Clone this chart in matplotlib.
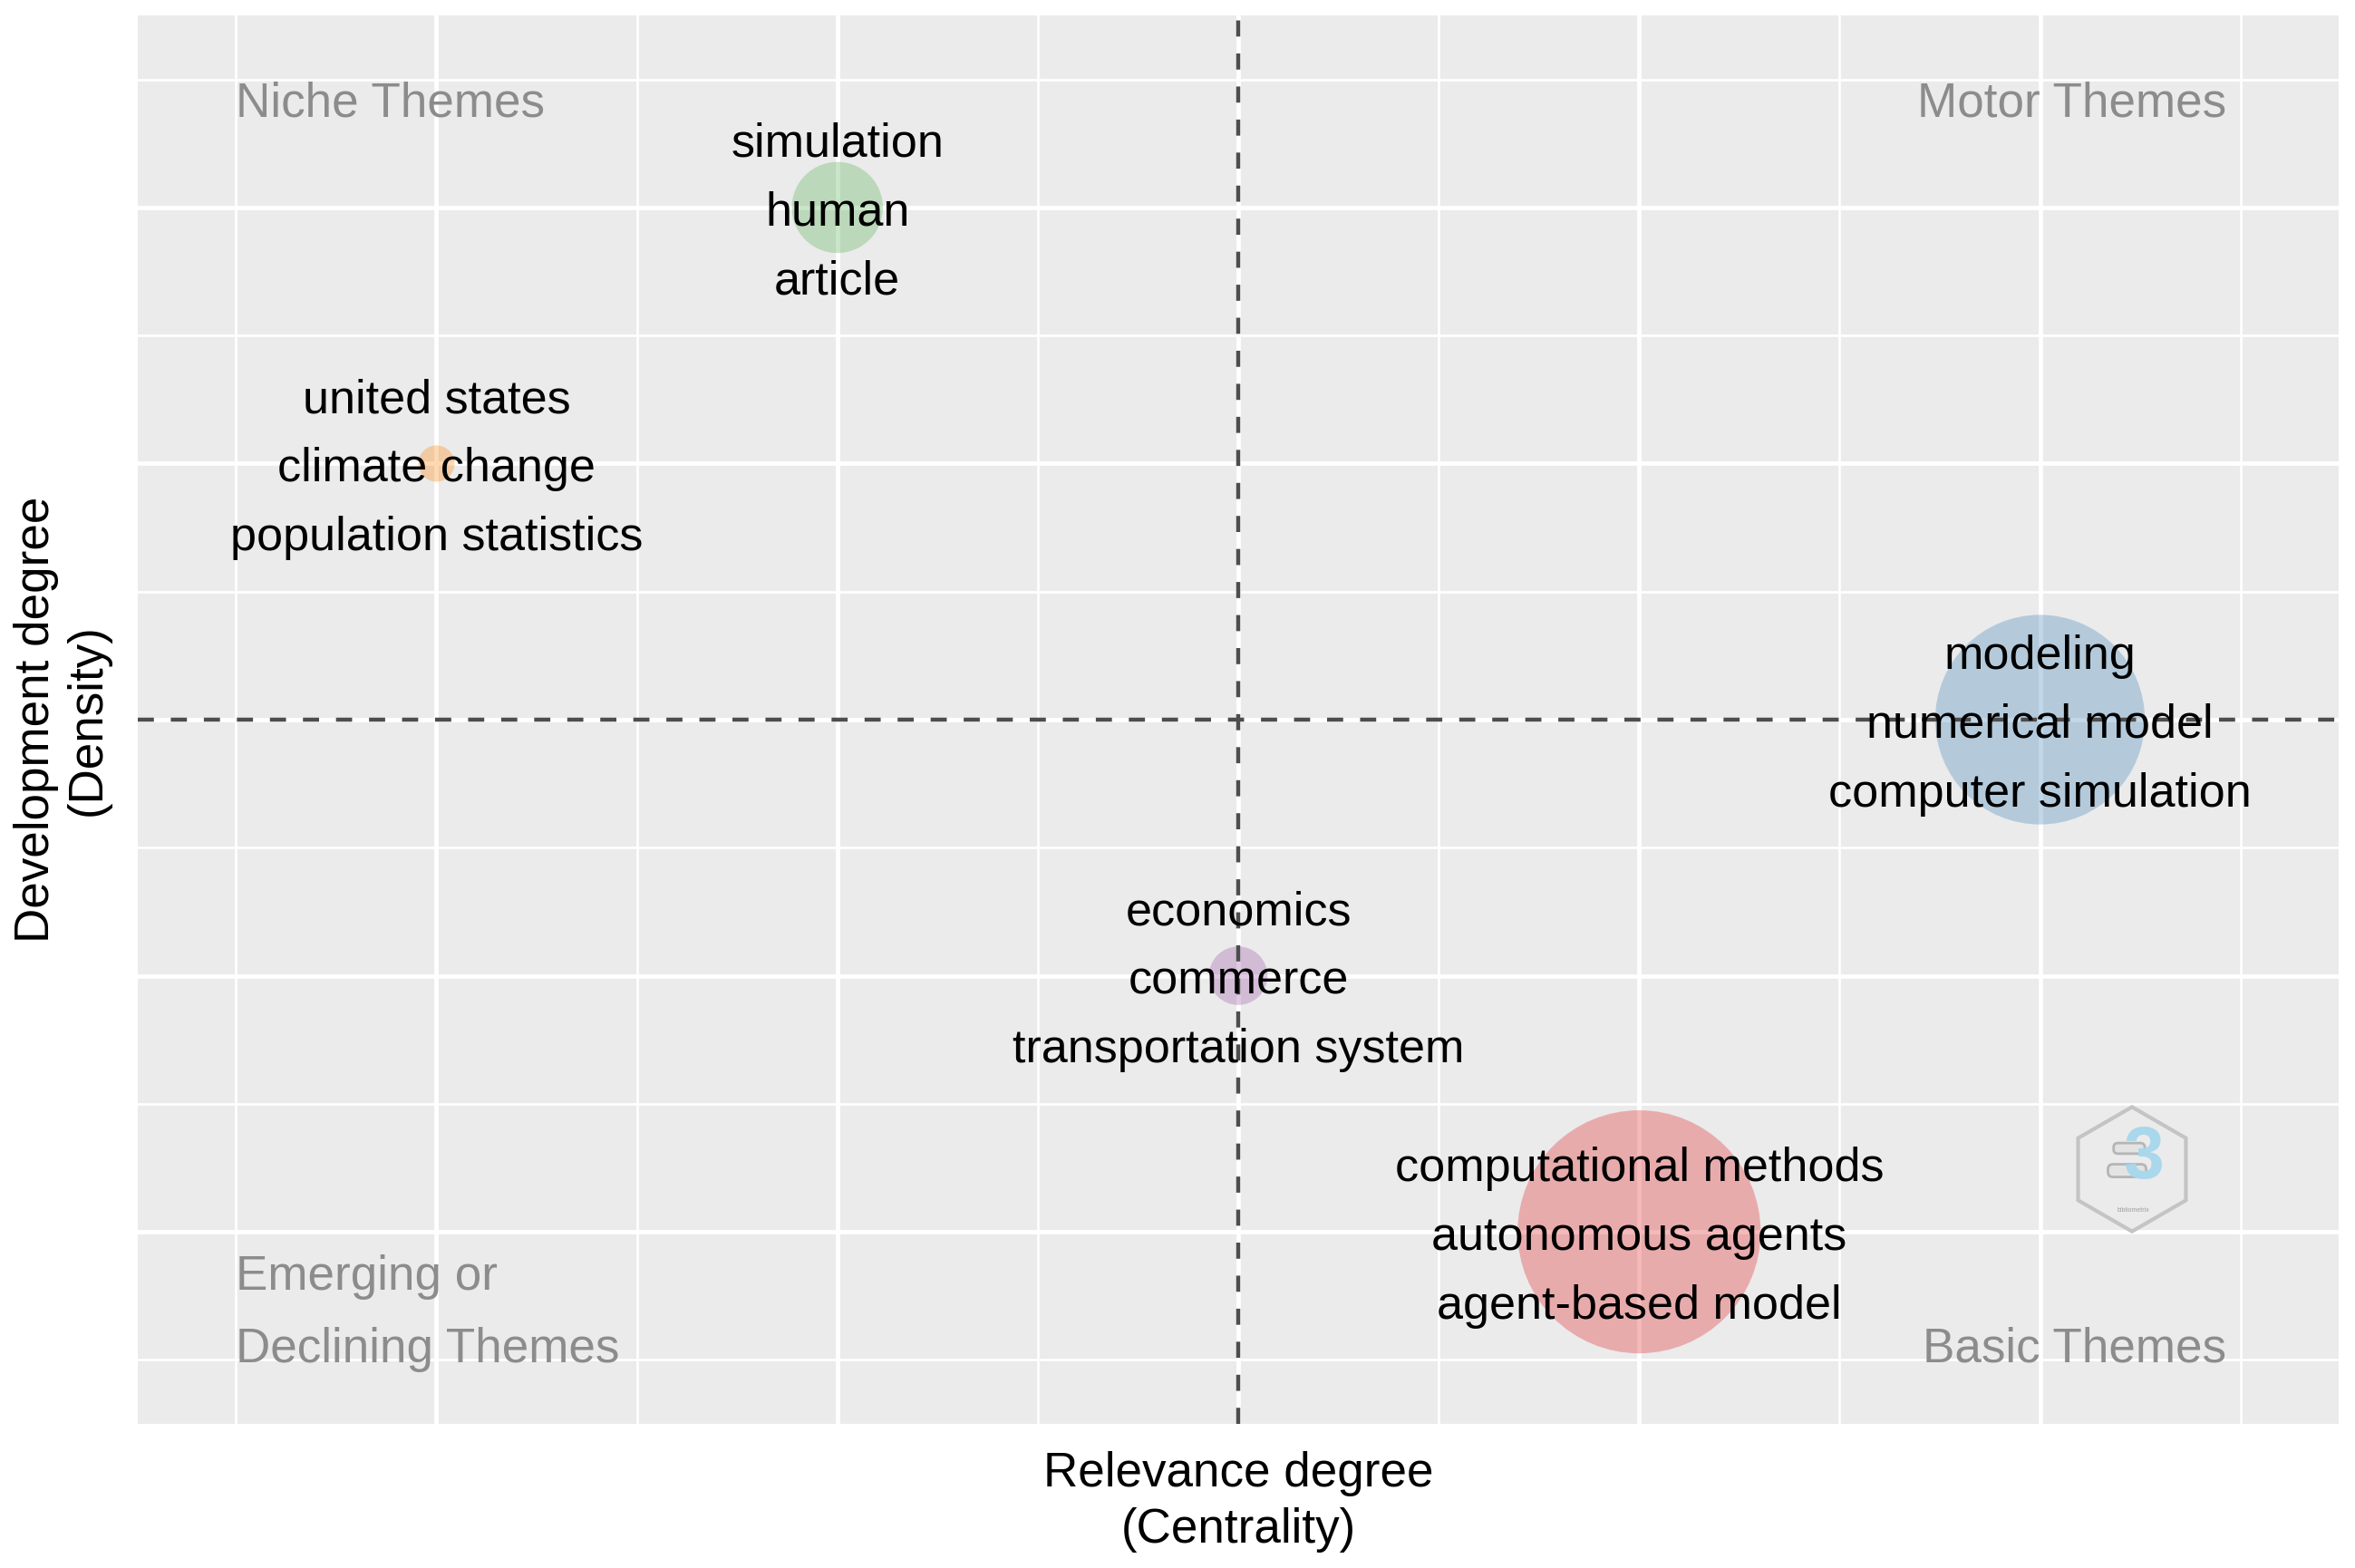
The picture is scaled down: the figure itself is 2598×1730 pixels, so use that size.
import numpy as np
import matplotlib
matplotlib.use("Agg")
import matplotlib.pyplot as plt
from matplotlib.patches import RegularPolygon, FancyBboxPatch

plt.rcParams["font.family"] = ["Liberation Sans", "DejaVu Sans"]

# thematic map clusters (top 3 keywords each)
cluster_words = [
    ["computational methods", "autonomous agents", "agent-based model"],
    ["modeling", "numerical model", "computer simulation"],
    ["simulation", "human", "article"],
    ["economics", "commerce", "transportation system"],
    ["united states", "climate change", "population statistics"],
]
centrality = [4, 5, 2, 3, 1]      # relevance degree (rank)
density = [1, 3, 5, 2, 4]         # development degree (rank)
freq = [449, 334, 63, 26, 10]     # cluster frequency -> bubble area
cluster_colors = ["#E41A1C", "#377EB8", "#4DAF4A", "#984EA3", "#FF7F00"]

quadrants = [
    (["Niche Themes"], 0.5, [5.357], "left"),
    (["Motor Themes"], 5.464, [5.357], "right"),
    (["Emerging or", "Declining Themes"], 0.5, [0.774, 0.491], "left"),
    (["Basic Themes"], 5.464, [0.491], "right"),
]

W, H, DPI = 2598, 1730, 100
fig = plt.figure(figsize=(W / DPI, H / DPI), dpi=DPI)
ax = fig.add_axes([152 / W, 1 - 1571 / H, (2580 - 152) / W, (1571 - 17) / H])
ax.set_facecolor("#EBEBEB")
for s in ax.spines.values():
    s.set_visible(False)

ax.set_xlim(0.255, 5.745)
ax.set_ylim(0.25, 5.75)
ax.set_xticks(np.arange(1, 6))
ax.set_yticks(np.arange(1, 6))
ax.set_xticks(np.arange(0.5, 6, 1), minor=True)
ax.set_yticks(np.arange(0.5, 6, 1), minor=True)
ax.tick_params(which="both", length=0, labelbottom=False, labelleft=False)
ax.grid(which="major", color="white", lw=3.4)
ax.grid(which="minor", color="white", lw=1.9)
ax.set_axisbelow(True)

# bubbles
ax.scatter(centrality, density, s=np.array(freq) * 83, c=cluster_colors,
           alpha=0.3, linewidths=0, zorder=2)

# mean lines
ax.axvline(np.mean(centrality), color="#4D4D4D", lw=3.2, ls=(0, (4, 4.2)), zorder=3)
ax.axhline(np.mean(density), color="#4D4D4D", lw=3.2, ls=(0, (4, 4.2)), zorder=3)

# cluster labels, one line at a time
step = 54.7
for words, x, y in zip(cluster_words, centrality, density):
    for i, w in enumerate(words):
        off = -14.2 + (1 - i) * step
        ax.annotate(w, (x, y), xytext=(0, off), textcoords="offset points",
                    ha="center", va="baseline", fontsize=37.5, color="black", zorder=4)

# quadrant names
for lines, qx, qys, ha in quadrants:
    for line, qy in zip(lines, qys):
        ax.text(qx, qy, line, ha=ha, va="baseline", fontsize=38.2,
                color="#8C8C8C", zorder=4)

ax.set_xlabel("Relevance degree\n(Centrality)", fontsize=38.2, linespacing=1.32,
              labelpad=21.5)
ax.set_ylabel("Development degree\n(Density)", fontsize=38.2, linespacing=1.18,
              labelpad=21.5)

# bibliometrix logo
lax = fig.add_axes([2352 / W - 78 / W, 1 - 1290 / H - 78 / H, 156 / W, 156 / H])
lax.set_xlim(-1, 1)
lax.set_ylim(-1, 1)
lax.set_aspect("equal")
lax.axis("off")
lax.add_patch(RegularPolygon((0, 0), numVertices=6, radius=0.88,
                             facecolor="none", edgecolor="#C4C4C4", lw=3))
lax.text(0.16, 0.14, "3", ha="center", va="center", fontsize=58,
         fontweight="bold", color="#A9D7EC")
lax.add_patch(FancyBboxPatch((-0.26, 0.22), 0.44, 0.15,
                             boxstyle="round,pad=0,rounding_size=0.06",
                             facecolor="#E3E3E3", edgecolor="#B5B5B5", lw=2))
lax.add_patch(FancyBboxPatch((-0.34, -0.11), 0.54, 0.18,
                             boxstyle="round,pad=0,rounding_size=0.07",
                             facecolor="#E3E3E3", edgecolor="#B5B5B5", lw=2))
lax.text(0.02, -0.58, "bibliometrix", ha="center", va="center", fontsize=5,
         color="#9E9E9E")

fig.savefig("out.png", dpi=DPI)
